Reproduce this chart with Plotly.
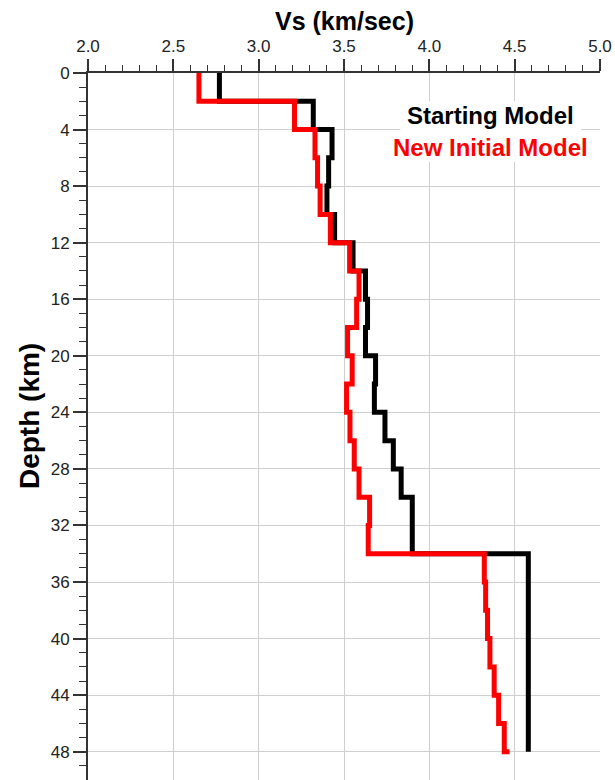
import plotly.graph_objects as go

# Starting model: layer top depth (km) and Vs (km/sec)
black_depth = [0, 2, 4, 6, 8, 10, 12, 14, 16, 18, 20, 22, 24, 26, 28, 30, 34, 48]
black_vs = [2.77, 3.32, 3.43, 3.41, 3.40, 3.445, 3.553, 3.626, 3.638, 3.626,
            3.685, 3.678, 3.74, 3.789, 3.835, 3.90, 4.58, 4.58]

# New initial model
red_depth = [0, 2, 4, 6, 8, 10, 12, 14, 16, 18, 20, 22, 24, 26, 28, 30, 32,
             34, 36, 38, 40, 42, 44, 46, 48]
red_vs = [2.65, 3.21, 3.33, 3.345, 3.36, 3.42, 3.533, 3.588, 3.574, 3.521,
          3.548, 3.515, 3.535, 3.56, 3.588, 3.65, 3.642,
          4.322, 4.33, 4.341, 4.355, 4.38, 4.406, 4.439, 4.47]

x_ticks = [2.0, 2.5, 3.0, 3.5, 4.0, 4.5, 5.0]
y_ticks = list(range(0, 49, 4))

FONT = "Liberation Sans, Arial, Helvetica, sans-serif"

fig = go.Figure()
fig.add_trace(go.Scatter(x=black_vs, y=black_depth, mode="lines",
                         line=dict(color="black", width=5, shape="vh"),
                         name="Starting Model", showlegend=False))
fig.add_trace(go.Scatter(x=red_vs, y=red_depth, mode="lines",
                         line=dict(color="#ff0000", width=5, shape="vh"),
                         name="New Initial Model", showlegend=False))

fig.update_layout(
    width=615, height=780,
    margin=dict(l=88, r=15, t=73, b=0, pad=0),
    paper_bgcolor="white", plot_bgcolor="white",
    font=dict(family=FONT, size=16, color="#222"),
    xaxis=dict(side="top", range=[2, 5], tickvals=x_ticks,
               ticktext=[f"{v:.1f}" for v in x_ticks],
               ticks="outside", ticklen=12, tickwidth=1.5, tickcolor="#333",
               showline=True, linecolor="#333", linewidth=2,
               showgrid=True, gridcolor="#cfcfcf", gridwidth=1,
               zeroline=False,
               minor=dict(dtick=0.1, ticks="outside", ticklen=6, tickwidth=1.2,
                          tickcolor="#333", showgrid=False),
               tickfont=dict(size=17, color="#222")),
    yaxis=dict(range=[50, 0], tickvals=y_ticks,
               ticktext=[str(v) for v in y_ticks],
               ticks="outside", ticklen=13, tickwidth=1.5, tickcolor="#333",
               showline=True, linecolor="#333", linewidth=2,
               showgrid=True, gridcolor="#cfcfcf", gridwidth=1,
               zeroline=False,
               minor=dict(dtick=1, ticks="outside", ticklen=7, tickwidth=1.2,
                          tickcolor="#333", showgrid=False),
               tickfont=dict(size=17, color="#222")),
)

fig.add_shape(type="rect", xref="x", yref="y", x0=3.83, x1=4.89, y0=2.0, y1=6.3,
              fillcolor="white", line=dict(width=0), layer="between")

fig.add_annotation(xref="paper", yref="paper", x=0.5, y=1.073,
                   text="<b>Vs (km/sec)</b>", showarrow=False,
                   xanchor="center", yanchor="middle",
                   font=dict(family=FONT, size=25, color="black"))
fig.add_annotation(xref="paper", yref="paper", x=-0.113, y=0.515,
                   text="<b>Depth (km)</b>", showarrow=False, textangle=-90,
                   xanchor="center", yanchor="middle",
                   font=dict(family=FONT, size=28, color="black"))
fig.add_annotation(xref="x", yref="y", x=4.358, y=3.0,
                   text="<b>Starting Model</b>", showarrow=False,
                   xanchor="center", yanchor="middle",
                   font=dict(family=FONT, size=24, color="black"))
fig.add_annotation(xref="x", yref="y", x=4.358, y=5.3,
                   text="<b>New Initial Model</b>", showarrow=False,
                   xanchor="center", yanchor="middle",
                   font=dict(family=FONT, size=24, color="#ff0000"))

fig.write_html("out.html")
